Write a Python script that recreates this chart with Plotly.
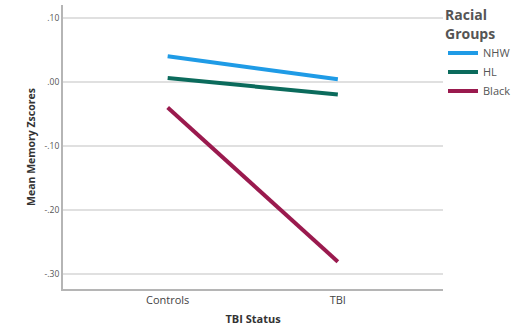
import plotly.graph_objects as go

categories = ["Controls", "TBI"]
nhw = [0.041, 0.005]
hl = [0.007, -0.019]
black = [-0.039, -0.280]
y_tickvals = [0.10, 0.0, -0.10, -0.20, -0.30]
y_ticktext = [".10", ".00", "-.10", "-.20", "-.30"]

series = [("NHW", nhw, "#1f9be6"), ("HL", hl, "#0b6b5c"), ("Black", black, "#9a1a4e")]

fig = go.Figure()
for name, vals, col in series:
    fig.add_trace(go.Scatter(x=categories, y=vals, name=name, mode="lines",
                             line=dict(color=col, width=4)))

font = "Open Sans, DejaVu Sans, sans-serif"
fig.update_layout(
    width=527, height=326,
    margin=dict(l=63, r=84, t=2, b=37),
    paper_bgcolor="white", plot_bgcolor="white",
    font=dict(family=font, color="#333"),
    showlegend=True,
    legend=dict(
        title=dict(text="<b>Racial<br>Groups</b>",
                   font=dict(size=14, color="#555")),
        font=dict(size=11, color="#555"),
        x=1.0, xanchor="left", y=1.01, yanchor="top",
        tracegroupgap=0, itemwidth=30,
        bgcolor="rgba(0,0,0,0)",
    ),
    xaxis=dict(
        type="category", range=[-0.615, 1.618],
        showgrid=False, showline=True, linecolor="#b5b5b5", linewidth=2,
        ticks="", tickfont=dict(size=11, color="#444"),
        title=dict(text="<b>TBI Status</b>", font=dict(size=11, color="#333"), standoff=9),
        zeroline=False,
    ),
    yaxis=dict(
        range=[-0.3227, 0.121],
        tickvals=y_tickvals, ticktext=y_ticktext,
        showgrid=True, gridcolor="#e0e0e0", gridwidth=1.5,
        showline=True, linecolor="#b5b5b5", linewidth=2,
        ticks="", tickfont=dict(size=8.5, color="#555"),
        zeroline=False,
        title=dict(text="<b>Mean Memory Zscores</b>", font=dict(size=10.5, color="#333"), standoff=7),
    ),
)

fig.write_html("out.html", config={"displayModeBar": False},
               post_script="document.body.style.margin='0';document.body.style.padding='0';")
